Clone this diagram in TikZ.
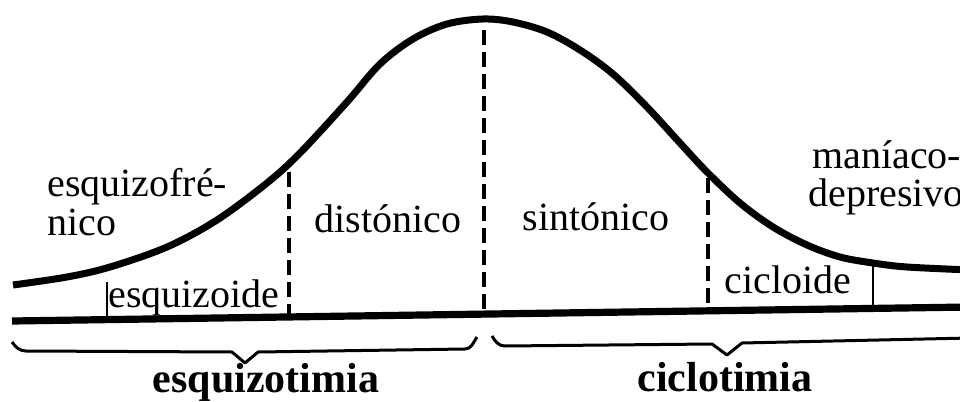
\documentclass[tikz,border=0pt]{standalone}
\usepackage{fontspec}
\setmainfont{Liberation Serif}
\begin{document}
\begin{tikzpicture}[x=0.5pt,y=-0.5pt,
  curveline/.style={line width=3.5pt,line cap=butt},
  axisline/.style={line width=3.6pt},
  divline/.style={line width=1.7pt,dash pattern=on 7.5pt off 3.5pt},
  tickline/.style={line width=1.3pt},
  braceline/.style={line width=1.5pt,line join=round},
  lbl/.style={inner sep=0pt,font=\fontsize{20}{22}\selectfont},
  biglbl/.style={inner sep=0pt,font=\fontsize{21}{24}\selectfont\bfseries}]
\useasboundingbox (0,0) rectangle (960,402);
\clip (0,0) rectangle (960,402);
% bell curve
\draw[curveline] plot[smooth,tension=0.55] coordinates {
 (13,285) (67,277) (110,267) (167,247) (217,220) (267,183) (300,153)
 (347,102) (380,64) (413,39) (447,24) (483,19) (513,22) (547,32)
 (580,50) (613,74) (647,107) (680,143) (707,172) (740,203) (773,227)
 (807,245) (840,257) (873,263) (907,267) (970,270)};
% axis
\coordinate (axL) at (12,321);
\coordinate (axR) at (970,307);
\draw[axisline] (axL) -- (axR);
% divisions
\coordinate (t1a) at (107,282); \coordinate (t1b) at (107,320);
\coordinate (d1a) at (289,172); \coordinate (d1b) at (289,317);
\coordinate (d2a) at (484,30);  \coordinate (d2b) at (484,313);
\coordinate (d3a) at (708,178); \coordinate (d3b) at (708,309);
\coordinate (t2a) at (873,263); \coordinate (t2b) at (873,308);
\draw[tickline] (t1a) -- (t1b);
\draw[divline] (d1a) -- (d1b);
\draw[divline] (d2a) -- (d2b);
\draw[divline] (d3a) -- (d3b);
\draw[tickline] (t2a) -- (t2b);
% braces
\draw[braceline] (12,342) to[out=-55,in=180] (26,351) -- (232,352) -- (245,363)
  -- (258,352) -- (465,349) to[out=0,in=-125] (477,337);
\draw[braceline] (492,336) to[out=-60,in=180] (505,346) -- (712,344) -- (727,355)
  -- (742,343) -- (970,338);
% labels
\node[lbl,anchor=base west] (esqf) at (47,196) {esquizofré-};
\node[lbl,anchor=base west] (nico) at (47,235) {nico};
\node[lbl,anchor=base] (esqd) at (194,307) {esquizoide};
\node[lbl,anchor=base] (dist) at (388,232) {distónico};
\node[lbl,anchor=base] (sint) at (596,230) {sintónico};
\node[lbl,anchor=base] (cicd) at (788,293) {cicloide};
\node[lbl,anchor=base west] (mani) at (812,168) {maníaco-};
\node[lbl,anchor=base west] (depr) at (808,206) {depresivo};
\node[biglbl,anchor=base] (esqt) at (266,392) {esquizotimia};
\node[biglbl,anchor=base] (cict) at (725,391) {ciclotimia};
\end{tikzpicture}
\end{document}
